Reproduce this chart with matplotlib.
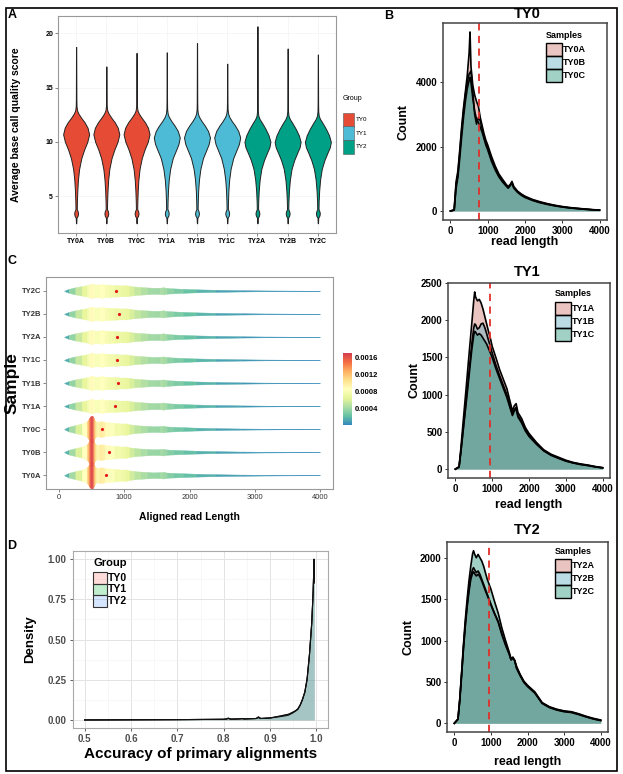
import numpy as np
import matplotlib
matplotlib.use('Agg')
import matplotlib.pyplot as plt
from matplotlib.patches import Rectangle
from matplotlib.colors import LinearSegmentedColormap, Normalize, to_rgba
import matplotlib.cm as cm

plt.rcParams['font.family'] = ['Liberation Sans', 'DejaVu Sans']

# ---------------- data ----------------
samples = ['TY0A', 'TY0B', 'TY0C', 'TY1A', 'TY1B', 'TY1C', 'TY2A', 'TY2B', 'TY2C']
groups = ['TY0', 'TY1', 'TY2']

# A : violin of average base quality (profile)
qual_tail_top = [18.75, 16.95, 18.2, 18.25, 19.1, 17.2, 20.65, 18.6, 18.05]
qual_tail_bottom = 2.5
qual_y_ty0 = [3.0, 3.2, 3.4, 3.6, 3.8, 4.5, 5.5, 6.5, 7.5, 8.5, 9.3, 10.0, 10.7, 11.3, 11.8, 12.2, 12.6, 12.9, 13.3, 14.0]
qual_w_ty0 = [0.03, 0.12, 0.15, 0.12, 0.05, 0.06, 0.09, 0.14, 0.23, 0.40, 0.62, 0.86, 1.00, 0.88, 0.65, 0.40, 0.18, 0.07, 0.03, 0.02]
qual_y_ty1 = [3.0, 3.2, 3.4, 3.6, 3.8, 4.5, 5.5, 6.5, 7.5, 8.5, 9.2, 9.8, 10.4, 11.0, 11.5, 11.9, 12.3, 12.6, 13.0, 13.7]
qual_w_ty1 = [0.03, 0.12, 0.15, 0.12, 0.05, 0.06, 0.09, 0.15, 0.26, 0.46, 0.70, 0.90, 1.00, 0.85, 0.60, 0.36, 0.16, 0.07, 0.03, 0.02]
qual_y_ty2 = [3.0, 3.2, 3.4, 3.6, 3.8, 4.5, 5.5, 6.5, 7.5, 8.3, 9.0, 9.5, 10.0, 10.6, 11.2, 11.7, 12.1, 12.4, 12.8, 13.5]
qual_w_ty2 = [0.03, 0.12, 0.15, 0.12, 0.05, 0.06, 0.10, 0.17, 0.30, 0.50, 0.74, 0.92, 1.00, 0.86, 0.62, 0.38, 0.17, 0.07, 0.03, 0.02]

# B : read length counts
rl_x = [0, 100, 150, 200, 250, 300, 350, 400, 450, 500, 525, 550, 600, 650, 700, 750, 800, 850, 900, 950,
        1000, 1100, 1200, 1300, 1400, 1500, 1550, 1600, 1650, 1700, 1800, 1900, 2000, 2200, 2400, 2600,
        2800, 3000, 3200, 3400, 3600, 3800, 4000]
rl_ty0a = [0, 40, 900, 1250, 1900, 2600, 3200, 3700, 4200, 4900, 5560, 4500, 3900, 3600, 3400, 3250, 2900, 2650, 2400, 2200,
           2050, 1700, 1400, 1150, 980, 820, 760, 820, 920, 760, 620, 530, 460, 360, 290, 230,
           180, 140, 110, 85, 65, 45, 30]
rl_ty0b = [0, 30, 800, 1150, 1800, 2500, 3100, 3600, 4000, 4250, 4300, 4350, 3700, 3000, 2700, 2900, 2800, 2550, 2300, 2100,
           1950, 1600, 1320, 1100, 930, 790, 730, 800, 880, 730, 600, 510, 440, 340, 270, 215,
           170, 130, 100, 80, 60, 40, 28]
rl_ty0c = [0, 30, 700, 1050, 1650, 2300, 2900, 3400, 3800, 4050, 4150, 4000, 3500, 3100, 2850, 2750, 2600, 2450, 2250, 2050,
           1900, 1550, 1280, 1060, 900, 770, 710, 780, 860, 710, 580, 490, 420, 330, 260, 205,
           160, 125, 95, 75, 55, 38, 25]
rl_ty1a = [0, 30, 280, 570, 850, 1130, 1420, 1700, 1980, 2270, 2380, 2310, 2260, 2280, 2230, 2150, 2050, 1950, 1850, 1760,
           1650, 1500, 1340, 1210, 1080, 880, 780, 850, 880, 760, 680, 560, 480, 360, 260, 200,
           160, 120, 90, 70, 55, 35, 20]
rl_ty1b = [0, 30, 240, 480, 720, 960, 1200, 1450, 1700, 1900, 1950, 1940, 1880, 1900, 1950, 1960, 1900, 1820, 1730, 1650,
           1560, 1400, 1260, 1130, 1000, 820, 740, 800, 830, 720, 640, 530, 450, 345, 250, 190,
           150, 112, 85, 65, 50, 32, 18]
rl_ty1c = [0, 30, 230, 460, 690, 920, 1150, 1390, 1620, 1800, 1850, 1840, 1800, 1820, 1800, 1760, 1720, 1680, 1620, 1560,
           1500, 1350, 1220, 1090, 960, 800, 720, 780, 810, 700, 620, 515, 440, 335, 245, 185,
           145, 108, 82, 62, 48, 30, 17]
rl_ty2a = [0, 50, 290, 600, 920, 1200, 1430, 1620, 1780, 1860, 1880, 1860, 1820, 1840, 1800, 1740, 1680, 1620, 1560, 1500,
           1440, 1330, 1230, 1080, 950, 840, 770, 790, 760, 670, 580, 500, 450, 370, 245, 195,
           165, 145, 135, 110, 80, 55, 35]
rl_ty2b = [0, 50, 280, 580, 900, 1170, 1400, 1590, 1740, 1815, 1830, 1810, 1780, 1800, 1770, 1720, 1660, 1600, 1545, 1490,
           1430, 1320, 1220, 1070, 945, 835, 765, 785, 755, 665, 575, 495, 445, 365, 240, 190,
           160, 140, 130, 105, 78, 52, 33]
rl_ty2c = [0, 50, 300, 620, 950, 1250, 1500, 1720, 1900, 2050, 2085, 2050, 2000, 2040, 2000, 1960, 1900, 1820, 1740, 1680,
           1620, 1470, 1330, 1150, 1000, 860, 780, 800, 760, 690, 590, 510, 460, 380, 250, 200,
           170, 150, 140, 115, 85, 60, 40]
rl_vline = [760, 940, 950]

# C : aligned read length density profiles (x1e-4)
al_x = [80, 150, 250, 350, 430, 460, 480, 500, 520, 540, 570, 620, 660, 700, 760, 850, 950, 1030, 1080, 1150,
        1250, 1350, 1450, 1550, 1600, 1650, 1750, 1900, 2100, 2400, 2800, 3200, 3600, 4000]
al_dens_ty0 = [0.2, 3.0, 5.0, 7.0, 10.0, 14.0, 16.0, 16.8, 16.0, 12.5, 9.0, 9.5, 10.0, 9.0, 8.5, 8.0, 7.0, 7.2, 6.0, 5.2,
               4.5, 4.0, 3.5, 3.8, 4.2, 3.3, 2.9, 2.4, 1.8, 1.2, 0.7, 0.4, 0.2, 0.05]
al_dens_ty12 = [0.2, 2.5, 4.5, 6.0, 7.2, 8.0, 8.6, 9.0, 8.7, 8.2, 7.8, 8.2, 8.8, 8.0, 7.8, 7.4, 6.8, 7.0, 6.2, 5.5,
                4.8, 4.3, 3.8, 4.0, 4.5, 3.6, 3.1, 2.5, 1.9, 1.3, 0.8, 0.45, 0.25, 0.05]
al_mean = [720, 770, 655, 863, 898, 893, 888, 924, 878]

# D : accuracy of primary alignments
acc_x = [0.50, 0.60, 0.70, 0.75, 0.80, 0.805, 0.81, 0.815, 0.83, 0.84, 0.845, 0.85, 0.87, 0.875, 0.88, 0.90,
         0.91, 0.92, 0.93, 0.94, 0.95, 0.955, 0.96, 0.965, 0.97, 0.975, 0.98, 0.985, 0.99, 0.993, 0.995, 0.9955]
acc_ty0 = [0, 0.001, 0.002, 0.003, 0.004, 0.006, 0.012, 0.005, 0.006, 0.009, 0.006, 0.007, 0.009, 0.02, 0.009, 0.012,
           0.016, 0.02, 0.024, 0.03, 0.045, 0.055, 0.065, 0.09, 0.125, 0.17, 0.25, 0.40, 0.60, 0.80, 1.0, 0.86]
acc_ty1 = [0, 0.001, 0.002, 0.003, 0.004, 0.005, 0.010, 0.005, 0.006, 0.008, 0.006, 0.007, 0.009, 0.016, 0.009, 0.013,
           0.018, 0.024, 0.030, 0.036, 0.05, 0.058, 0.07, 0.095, 0.13, 0.175, 0.26, 0.41, 0.61, 0.80, 0.99, 0.85]
acc_ty2 = [0, 0.001, 0.002, 0.003, 0.004, 0.005, 0.009, 0.005, 0.006, 0.008, 0.006, 0.007, 0.009, 0.014, 0.009, 0.012,
           0.017, 0.022, 0.028, 0.034, 0.048, 0.056, 0.068, 0.092, 0.128, 0.172, 0.255, 0.405, 0.605, 0.80, 0.995, 0.86]

# ---------------- figure ----------------
W, H = 623, 774
fig = plt.figure(figsize=(W / 100, H / 100), dpi=100)


def add_ax(l, t, r, b):
    return fig.add_axes([l / W, 1 - b / H, (r - l) / W, (b - t) / H])


def fig_text(x, y, s, **kw):
    fig.text(x / W, 1 - y / H, s, **kw)


def key_legend(x, title_y, key_top, title, labels, colors, kw, kh, tsize, lsize, tweight, lweight, ec, elw):
    # ggplot style stacked keys, placed in figure pixels
    fig_text(x, title_y, title, fontsize=tsize, fontweight=tweight, ha='left', va='center')
    for k, (lab, col) in enumerate(zip(labels, colors)):
        top = key_top + k * kh
        fig.add_artist(Rectangle((x / W, 1 - (top + kh) / H), kw / W, kh / H, transform=fig.transFigure,
                                 facecolor=col, edgecolor=ec, lw=elw))
        fig_text(x + kw + 1.5, top + kh / 2, lab, fontsize=lsize, fontweight=lweight, ha='left', va='center')


npg = ['#E64B35', '#4DBBD5', '#00A087']

# ---- A ----
axA = add_ax(58, 16, 336, 233)
prof_y = [qual_y_ty0, qual_y_ty1, qual_y_ty2]
prof_w = [qual_w_ty0, qual_w_ty1, qual_w_ty2]
for i, s in enumerate(samples):
    g = i // 3
    ys = [qual_tail_bottom] + prof_y[g] + [qual_tail_top[i]]
    ws = np.array([0.012] + prof_w[g] + [0.008]) * 0.43
    axA.fill_betweenx(ys, i + 1 - ws, i + 1 + ws, facecolor=npg[g], edgecolor='#222222', lw=0.7, zorder=3)
axA.set_xlim(0.4, 9.6)
axA.set_ylim(1.6, 21.6)
axA.set_xticks(range(1, 10))
axA.set_xticklabels(samples, fontsize=5, fontweight='bold')
axA.set_yticks([5, 10, 15, 20])
axA.set_yticklabels(['5', '10', '15', '20'], fontsize=5, fontweight='bold')
axA.tick_params(length=2, width=0.5, color='#555555', pad=1.5)
axA.grid(color='#F3F3F3', lw=0.5)
axA.set_axisbelow(True)
for sp in axA.spines.values():
    sp.set_color('#999999')
    sp.set_linewidth(0.8)
axA.set_ylabel('Average base call quality score', fontsize=7.5, fontweight='bold')
axA.yaxis.set_label_coords(-0.151, 0.5)
axA.yaxis.label.set_va('center')
key_legend(343, 99, 113, 'Group', groups, npg, 11, 13.5, 5, 4.5, 'normal', 'normal', '#555555', 0.4)


# ---- B / read length panels ----
rl_fill = ['#CF7369', '#5DADC1', '#1F8F75']
rl_alpha = 0.42


def read_panel(box, title, title_y, names, series, ylim, yticks, vline, leg_x, leg_y, ylab_x, xlab_y):
    ax = add_ax(*box)
    for k, ys in enumerate(series):
        ax.fill_between(rl_x, ys, color=rl_fill[k], alpha=rl_alpha, lw=0)
    for ys in series:
        ax.plot(rl_x, ys, color='black', lw=1.2)
    ax.axvline(vline, color='#E0302A', lw=1.3, ls=(0, (4, 3)))
    ax.set_xlim(-200, 4200)
    ax.set_ylim(*ylim)
    ax.set_xticks([0, 1000, 2000, 3000, 4000])
    ax.set_xticklabels(['0', '1000', '2000', '3000', '4000'], fontsize=7, fontweight='bold')
    ax.set_yticks(yticks)
    ax.set_yticklabels([str(v) for v in yticks], fontsize=7, fontweight='bold')
    ax.tick_params(length=2.5, width=0.7, color='#333333', pad=1.5)
    for sp in ax.spines.values():
        sp.set_color('#444444')
        sp.set_linewidth(1.1)
    ax.set_xlabel('read length', fontsize=9, fontweight='bold')
    ax.xaxis.set_label_coords(0.5, xlab_y)
    ax.xaxis.label.set_va('center')
    ax.set_ylabel('Count', fontsize=9, fontweight='bold')
    ax.yaxis.set_label_coords(ylab_x, 0.5)
    ax.yaxis.label.set_va('center')
    fig_text(527, title_y, title, fontsize=10.5, fontweight='bold', ha='center', va='center')
    cols = [to_rgba(c, rl_alpha) for c in rl_fill]
    key_legend(leg_x, leg_y, leg_y + 8, 'Samples', names, cols, 15.5, 13, 6.5, 6.5, 'bold', 'bold', 'black', 1.0)
    return ax


read_panel((443, 23, 607, 220), 'TY0', 14, samples[0:3], [rl_ty0a, rl_ty0b, rl_ty0c],
           (-278, 5838), [0, 2000, 4000], rl_vline[0], 546, 35, -0.238, -0.112)
read_panel((448, 283, 610, 478), 'TY1', 272, samples[3:6], [rl_ty1a, rl_ty1b, rl_ty1c],
           (-119, 2500), [0, 500, 1000, 1500, 2000, 2500], rl_vline[1], 555, 294, -0.204, -0.14)
read_panel((447, 542, 608, 732), 'TY2', 530, samples[6:9], [rl_ty2a, rl_ty2b, rl_ty2c],
           (-105, 2190), [0, 500, 1000, 1500, 2000], rl_vline[2], 555, 551, -0.242, -0.158)

# ---- C ----
axC = add_ax(46, 277, 333, 489)
spec = ['#3288BD', '#66C2A5', '#ABDDA4', '#E6F598', '#FFFFBF', '#FEE08B', '#FDAE61', '#F46D43', '#D53E4F']
cmap = LinearSegmentedColormap.from_list('spec', spec)
norm = Normalize(0, 0.0017)
c_scale = 0.31 / 9e-4
dens_sets = [al_dens_ty0, al_dens_ty12, al_dens_ty12]
for i, s in enumerate(samples):
    dens = np.array(dens_sets[i // 3]) * 1e-4
    half = dens * c_scale
    yc = i + 1
    for k in range(len(al_x) - 1):
        col = cmap(norm(0.5 * (dens[k] + dens[k + 1])))
        axC.fill_between(al_x[k:k + 2], yc - half[k:k + 2], yc + half[k:k + 2],
                         facecolor=col, edgecolor=col, lw=0.3)
    axC.plot(al_mean[i], yc, 'o', color='#E31A1C', ms=2.3, mec='none', zorder=4)
axC.set_xlim(-200, 4200)
axC.set_ylim(0.4, 9.6)
axC.set_xticks([0, 1000, 2000, 3000, 4000])
axC.set_xticklabels(['0', '1000', '2000', '3000', '4000'], fontsize=5.5)
axC.set_yticks(range(1, 10))
axC.set_yticklabels(samples, fontsize=5.5, fontweight='bold')
axC.tick_params(length=2, width=0.5, color='#555555', pad=1.5, labelcolor='#333333')
for sp in axC.spines.values():
    sp.set_color('#999999')
    sp.set_linewidth(0.8)
axC.set_ylabel('Sample', fontsize=12.5, fontweight='bold')
axC.yaxis.set_label_coords(-0.118, 0.5)
axC.yaxis.label.set_va('center')
axC.set_xlabel('Aligned read Length', fontsize=7.5, fontweight='bold')
axC.xaxis.set_label_coords(0.5, -0.132)
axC.xaxis.label.set_va('center')

cax = add_ax(343, 353, 352, 425)
cb = fig.colorbar(cm.ScalarMappable(norm=norm, cmap=cmap), cax=cax, ticks=[0.0004, 0.0008, 0.0012, 0.0016])
cb.set_ticklabels(['0.0004', '0.0008', '0.0012', '0.0016'])
cb.outline.set_visible(False)
cax.tick_params(length=0, labelsize=5.5, pad=2)
for t in cax.get_yticklabels():
    t.set_fontweight('bold')

# ---- D ----
axD = add_ax(73, 551, 328, 728)
hues = ['#F8766D', '#00BA38', '#619CFF']
for g, ys in enumerate([acc_ty0, acc_ty1, acc_ty2]):
    axD.fill_between(acc_x, ys, color=hues[g], alpha=0.25, lw=0)
for ys in [acc_ty0, acc_ty1, acc_ty2]:
    axD.plot(acc_x, ys, color='#111111', lw=0.8)
axD.set_xlim(0.475, 1.025)
axD.set_ylim(-0.05, 1.05)
axD.set_xticks([0.5, 0.6, 0.7, 0.8, 0.9, 1.0])
axD.set_xticklabels(['0.5', '0.6', '0.7', '0.8', '0.9', '1.0'], fontsize=7, fontweight='bold')
axD.set_yticks([0, 0.25, 0.5, 0.75, 1.0])
axD.set_yticklabels(['0.00', '0.25', '0.50', '0.75', '1.00'], fontsize=7, fontweight='bold')
axD.set_xticks([0.55, 0.65, 0.75, 0.85, 0.95], minor=True)
axD.set_yticks([0.125, 0.375, 0.625, 0.875], minor=True)
axD.tick_params(which='major', length=2.5, width=0.6, color='#444444', pad=2, labelcolor='#4D4D4D')
axD.tick_params(which='minor', length=0)
axD.grid(which='major', color='#E3E3E3', lw=0.7)
axD.grid(which='minor', color='#F1F1F1', lw=0.4)
axD.set_axisbelow(True)
for sp in axD.spines.values():
    sp.set_color('#AAAAAA')
    sp.set_linewidth(0.8)
axD.set_ylabel('Density', fontsize=9.5, fontweight='bold')
axD.yaxis.set_label_coords(-0.169, 0.5)
axD.yaxis.label.set_va('center')
axD.set_xlabel('Accuracy of primary alignments', fontsize=11, fontweight='bold')
axD.xaxis.set_label_coords(0.5, -0.147)
axD.xaxis.label.set_va('center')
key_legend(93, 563, 572, 'Group', groups, [to_rgba(c, 0.25) for c in hues], 13.5, 11.5, 8, 7.5,
           'bold', 'bold', '#333333', 0.8)

# ---- panel letters and frame ----
for lab, x, y in [('A', 8, 15), ('B', 384, 16), ('C', 7, 261), ('D', 7, 546)]:
    fig_text(x, y, lab, fontsize=9, fontweight='bold', ha='left', va='center')
fig.add_artist(Rectangle((6 / W, 1 - 771 / H), 611 / W, 763 / H, transform=fig.transFigure,
                         fill=False, lw=1.2, ec='black'))

fig.savefig('out.png', dpi=100)
